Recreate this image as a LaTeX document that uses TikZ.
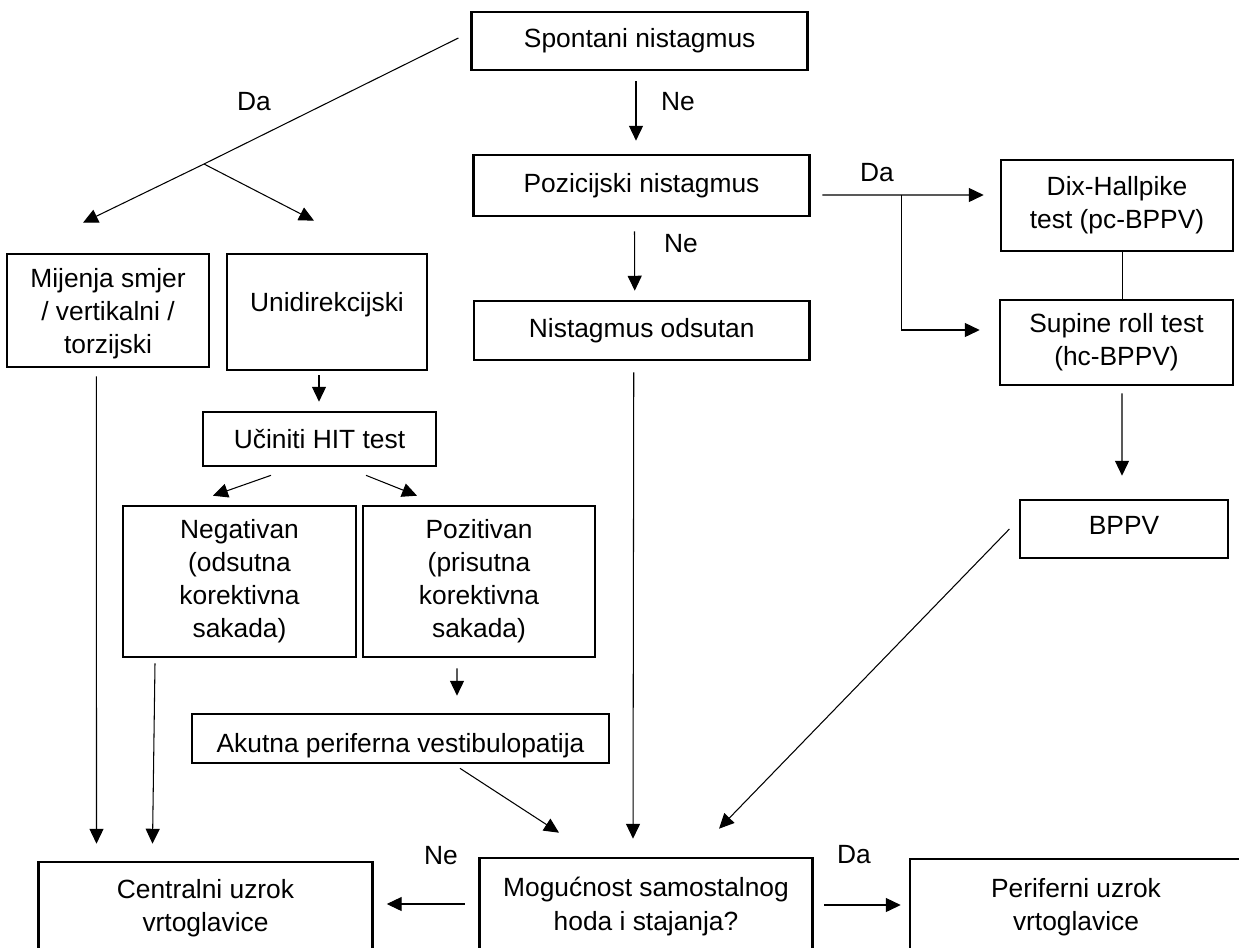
\documentclass[tikz,border=0pt]{standalone}
\usepackage{fontspec}
\setmainfont{Liberation Sans}
\usepackage{tikz}
\usetikzlibrary{arrows.meta}
\usetikzlibrary{calc}

\begin{document}
\begin{tikzpicture}[x=0.02cm, y=-0.02cm,
	font=\fontsize{15}{18.8}\selectfont,
	box/.style={draw, line width=1.5pt, align=center, inner sep=0pt},
	conn/.style={line width=0.6pt},
	arr/.style={conn, -{Triangle[length=8.5pt, width=8pt]}}]
\useasboundingbox[fill=white] (0,0) rectangle (1239,947);

% boxes
\node[box, minimum width=6.72cm, minimum height=1.16cm] (spont) at (639.7,41) {Spontani nistagmus};
\node[box, minimum width=6.72cm, minimum height=1.22cm] (poz) at (641.5,185.5) {Pozicijski nistagmus};
\node[box, minimum width=6.71cm, minimum height=1.18cm] (odsut) at (641.75,330.5) {Nistagmus odsutan};
\node[box, minimum width=4.64cm, minimum height=1.82cm] (dix) at (1117,205.5) {Dix-Hallpike\\test (pc-BPPV)};
\node[box, minimum width=4.66cm, minimum height=1.70cm] (supine) at (1116.5,342.5) {Supine roll test\\(hc-BPPV)};
\node[box, minimum width=4.16cm, minimum height=1.16cm, text depth=4pt] (bppv) at (1124,529) {BPPV};
\node[box, minimum width=4.04cm, minimum height=2.26cm, text depth=0pt] (mijenja) at (108,310.5) {Mijenja smjer\\/ vertikalni /\\torzijski};
\node[box, minimum width=4.00cm, minimum height=2.32cm, text depth=12pt] (unidir) at (327,312) {Unidirekcijski};
\node[box, minimum width=4.66cm, minimum height=1.08cm] (hit) at (319.5,439) {Učiniti HIT test};
\node[box, minimum width=4.66cm, minimum height=3.02cm] (neg) at (239.5,581.5) {Negativan\\(odsutna\\korektivna\\sakada)};
\node[box, minimum width=4.64cm, minimum height=3.02cm] (pozit) at (479,581.5) {Pozitivan\\(prisutna\\korektivna\\sakada)};
\node[box, minimum width=8.34cm, minimum height=0.98cm, text height=18.5pt] (akut) at (400.5,738.5) {Akutna periferna vestibulopatija};
\node[box, minimum width=6.68cm, minimum height=1.86cm] (central) at (205.5,908.5) {Centralni uzrok\\vrtoglavice};
\node[box, minimum width=6.67cm, minimum height=1.94cm] (moguc) at (646,906.5) {Mogućnost samostalnog\\hoda i stajanja?};
\node[box, minimum width=6.64cm, minimum height=1.92cm] (perif) at (1076,907) {Periferni uzrok\\vrtoglavice};

% labels
\node (da1) at (254,102) {Da};
\node (ne1) at (678,102) {Ne};
\node (ne2) at (681,244) {Ne};
\node (da2) at (877,173) {Da};
\node (ne3) at (441,856) {Ne};
\node (da3) at (854,855) {Da};

% connectors
\coordinate (dasplit) at (204,164);
\coordinate (dasplit2) at (901.5,195);
\draw[conn] ($(spont.west)+(-12,-3)$) -- (dasplit);
\draw[arr] (dasplit) -- ($(mijenja.north)+(-25,-30)$);
\draw[arr] (dasplit) -- ($(unidir.north)+(-13,-32)$);
\draw[arr] ($(spont.south)+(-3.7,10)$) -- ($(poz.north)+(-5.5,-13)$);
\draw[arr] ($(poz.south)+(-7,14)$) -- ($(odsut.north)+(-7,-9)$);
\draw[arr] ($(poz.east)+(11.5,9.5)$) -- ($(dix.west)+(-16,-10.5)$);
\draw[arr] (dasplit2) |- ($(supine.west)+(-19,-12.5)$);
\draw[conn] ($(dix.south)+(5.6,0)$) -- ($(supine.north)+(6.1,0)$);
\draw[arr] ($(supine.south)+(5.5,7)$) -- ($(bppv.north)+(-2,-23)$);
\draw[arr] ($(bppv.west)+(-9.3,0)$) -- ($(moguc.north)+(73,-28)$);
\draw[arr] ($(odsut.south)+(-8,11)$) -- ($(moguc.north)+(-13,-18)$);
\draw[arr] ($(unidir.south)+(-8,4)$) -- ($(hit.north)+(-0.5,-9)$);
\draw[arr] ($(hit.south)+(-48.5,8)$) -- ($(neg.north)+(-26.5,-9)$);
\draw[arr] ($(hit.south)+(46.5,8)$) -- ($(pozit.north)+(-62,-9)$);
\draw[arr] ($(pozit.south)+(-22,10)$) -- ($(akut.north)+(56.5,-17)$);
\draw[arr] ($(akut.south)+(59.5,4)$) -- ($(moguc.north)+(-87,-24)$);
\draw[arr] ($(mijenja.south)+(-11.6,8)$) -- ($(central.north)+(-109,-17)$);
\draw[arr] ($(neg.south)+(-84.5,5)$) -- ($(central.north)+(-53,-17)$);
\draw[arr] ($(moguc.west)+(-13,-2.5)$) -- ($(central.east)+(13,-4.5)$);
\draw[arr] ($(moguc.east)+(10.3,-1.5)$) -- ($(perif.west)+(-8,-2)$);
\end{tikzpicture}
\end{document}
